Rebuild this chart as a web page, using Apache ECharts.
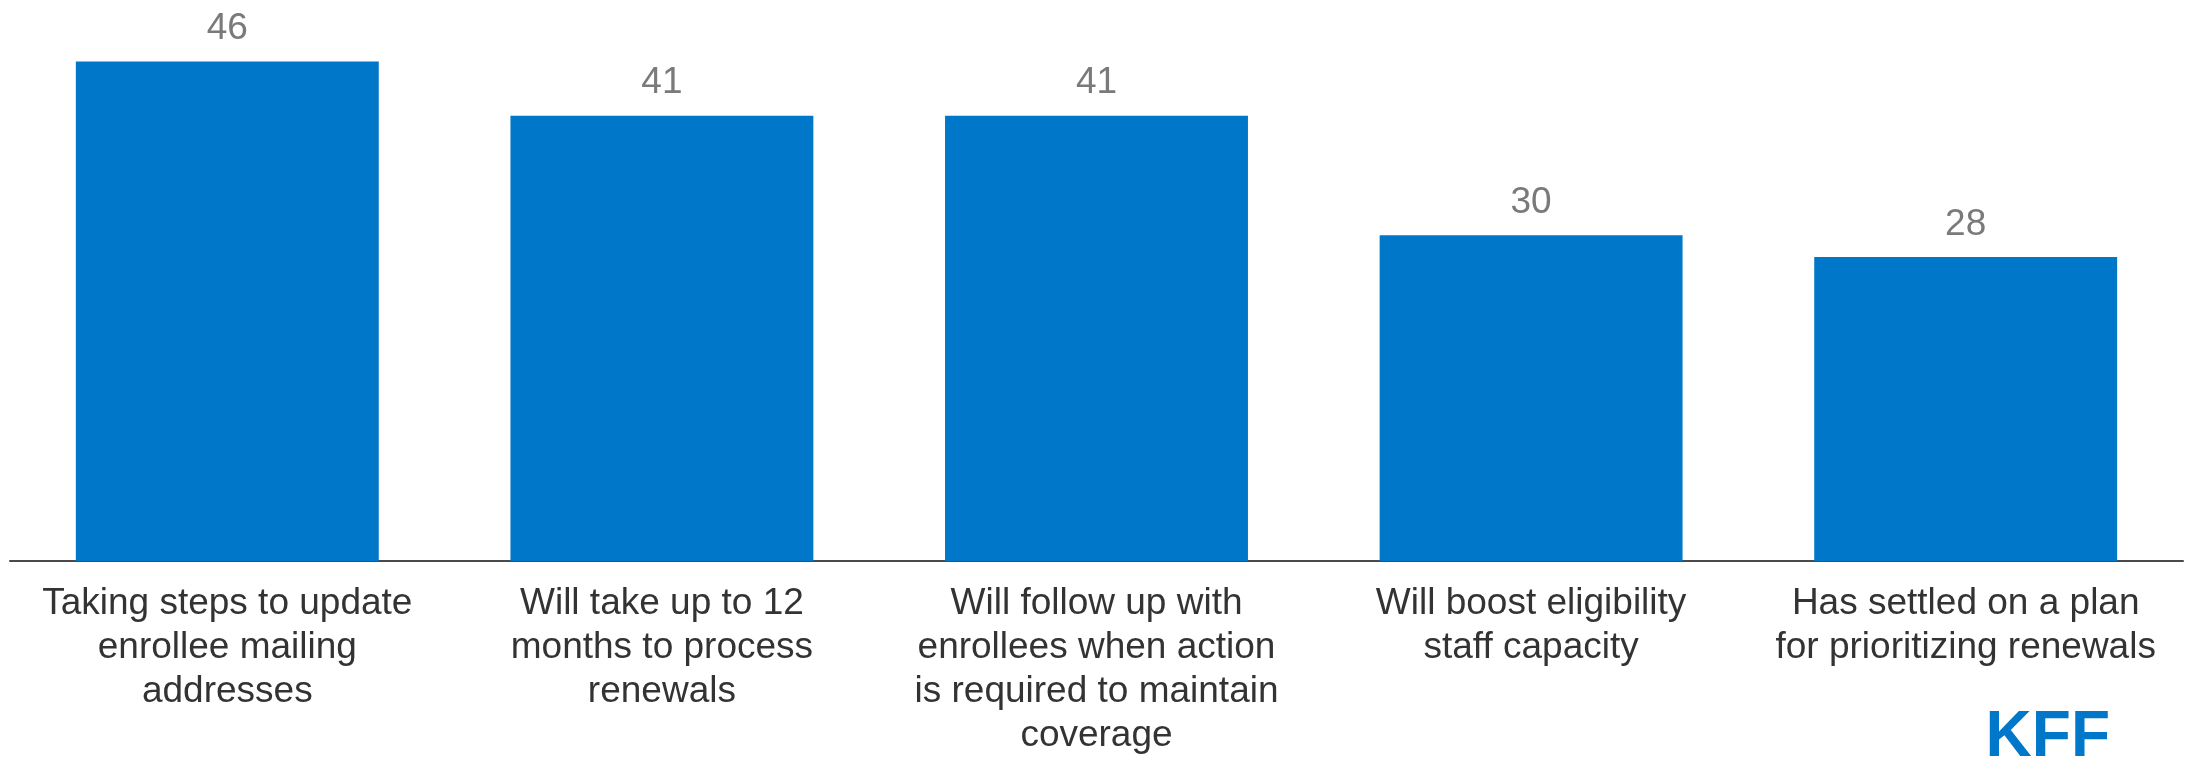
<!DOCTYPE html>
<html>
<head>
<meta charset="utf-8">
<script src="https://cdn.jsdelivr.net/npm/echarts@6/dist/echarts.min.js"></script>
<style>
html,body{margin:0;padding:0;background:#fff;}
#chart{width:2186px;height:758px;}
</style>
</head>
<body>
<div id="chart"></div>
<script>
const categories = [
  "Taking steps to update\nenrollee mailing\naddresses",
  "Will take up to 12\nmonths to process\nrenewals",
  "Will follow up with\nenrollees when action\nis required to maintain\ncoverage",
  "Will boost eligibility\nstaff capacity",
  "Has settled on a plan\nfor prioritizing renewals"
];
const values = [46, 41, 41, 30, 28];

const chart = echarts.init(document.getElementById('chart'));
chart.setOption({
  animation: false,
  grid: { left: 10, right: 3, top: 18, bottom: 185, containLabel: false },
  xAxis: {
    type: 'category',
    data: categories,
    axisLine: { show: true, lineStyle: { color: '#4a4a4a', width: 2 } },
    axisTick: { show: false },
    axisLabel: {
      interval: 0,
      color: '#333333',
      fontFamily: 'Liberation Sans, Arial, sans-serif',
      fontSize: 37,
      lineHeight: 44,
      margin: 21,
      align: 'center'
    }
  },
  yAxis: {
    type: 'value',
    min: 0,
    max: 50,
    show: false,
    splitLine: { show: false }
  },
  series: [{
    type: 'bar',
    data: values,
    barWidth: '69.7%',
    itemStyle: { color: '#0077C8' },
    label: {
      show: true,
      position: 'top',
      distance: 14,
      color: '#7a7a7a',
      fontFamily: 'Liberation Sans, Arial, sans-serif',
      fontSize: 37
    }
  }],
  graphic: [{
    type: 'text',
    right: 76,
    top: 706,
    style: {
      text: 'KFF',
      fill: '#0077C8',
      font: 'bold 64px "Liberation Sans", Arial, sans-serif'
    }
  }]
});
</script>
</body>
</html>
